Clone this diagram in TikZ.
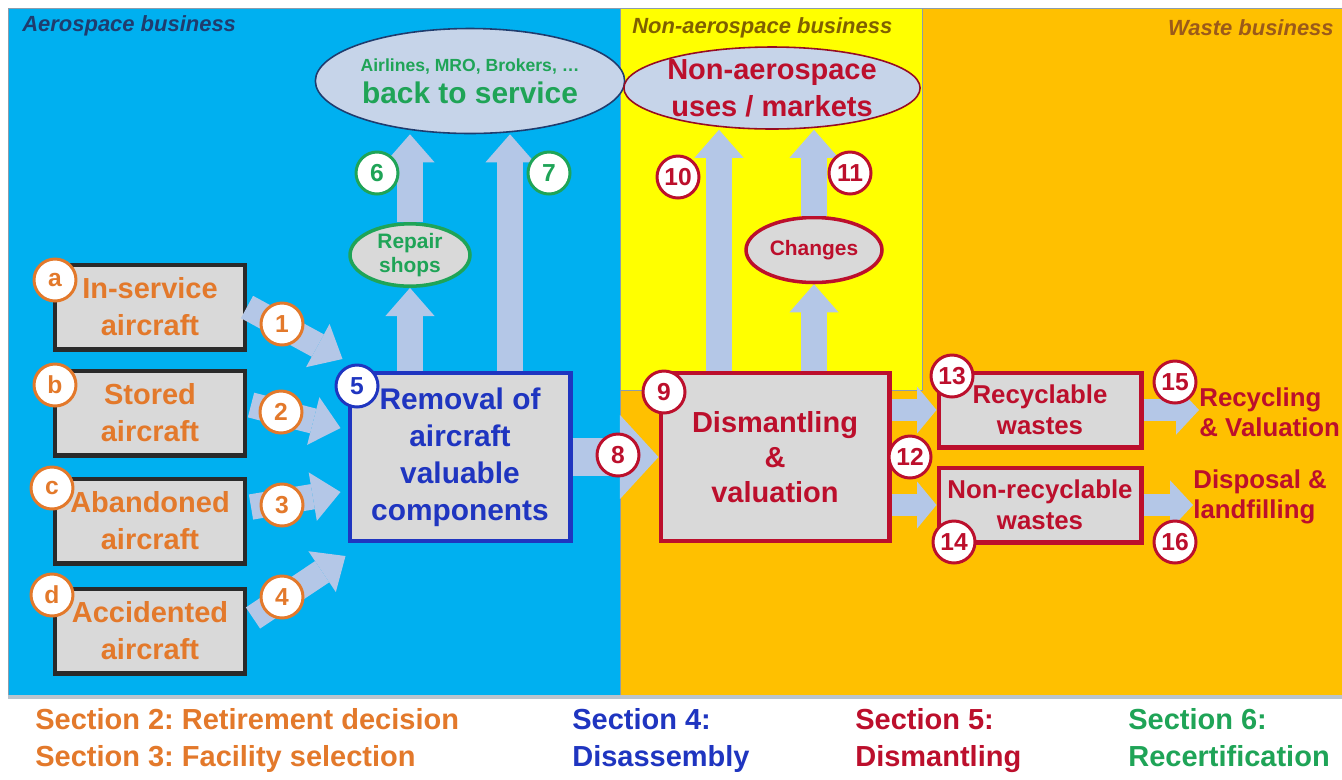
\documentclass[tikz,border=0pt]{standalone}
\usepackage{fontspec}
\setmainfont{Liberation Sans}
\usetikzlibrary{arrows.meta,shapes.geometric}
\frenchspacing
\definecolor{skyblue}{HTML}{00B0F0}
\definecolor{lemon}{HTML}{FFFF00}
\definecolor{amber}{HTML}{FFC000}
\definecolor{boxgray}{HTML}{D9D9D9}
\definecolor{ellfill}{HTML}{C6D4E9}
\definecolor{flowblue}{HTML}{B4C7E7}
\definecolor{framegray}{HTML}{8C9CAC}
\definecolor{boxedge}{HTML}{2A2A2A}
\definecolor{secorange}{HTML}{E3792B}
\definecolor{secblue}{HTML}{1F35C0}
\definecolor{secred}{HTML}{BC0F2C}
\definecolor{secgreen}{HTML}{1FA457}
\definecolor{navytext}{HTML}{1F3C6E}
\definecolor{olivetext}{HTML}{7F6000}
\definecolor{wastetext}{HTML}{9B5A1A}
\tikzset{
  arealabel/.style={font=\bfseries\itshape\fontsize{12.5}{15}\selectfont, inner sep=0pt},
  srcbox/.style={draw=boxedge, line width=2.3pt, fill=boxgray, minimum width=3.8cm,
    minimum height=1.7cm, text=secorange, align=center, inner sep=0pt,
    font=\bfseries\fontsize{16.5}{21}\selectfont},
  stepbox/.style={draw=#1, line width=2.3pt, fill=boxgray, text=#1, align=center,
    inner sep=0pt, font=\bfseries\fontsize{17}{21}\selectfont},
  wastebox/.style={stepbox=secred, minimum width=4.06cm, minimum height=1.5cm,
    font=\bfseries\fontsize{14.7}{17.6}\selectfont},
  bigell/.style={ellipse, draw=#1, line width=0.9pt, fill=ellfill, align=center, inner sep=0pt},
  smallell/.style={ellipse, draw=#1, line width=2pt, fill=boxgray, text=#1, align=center,
    inner sep=0pt, font=\bfseries\fontsize{11.9}{14}\selectfont},
  tag/.style={circle, draw=#1, text=#1, fill=white, line width=1.7pt, minimum size=0.84cm,
    inner sep=0pt, font=\bfseries\fontsize{14}{14}\selectfont},
  flow/.style={draw=flowblue, line width=14.5pt,
    -{Triangle[length=16pt,width=28pt,line width=0pt]}},
  outtext/.style={anchor=west, align=left, text=secred, inner sep=0pt,
    font=\bfseries\fontsize{14.7}{17}\selectfont},
  legend/.style={anchor=west, align=left, inner sep=0pt,
    font=\bfseries\fontsize{16.5}{21}\selectfont}
}
\begin{document}
\begin{tikzpicture}[x=0.02cm,y=-0.02cm]
\useasboundingbox (0,0) rectangle (1342,779);
\fill[white] (0,0) rectangle (1342,779);
\fill[skyblue] (8,8) rectangle (620,695);
\fill[amber] (620,390) -- (922,390) -- (922,8) -- (1342,8) -- (1342,695) -- (620,695) -- cycle;
\fill[lemon] (620,8) rectangle (922,390);
\draw[framegray] (8,695) -- (8,8) -- (1342,8);
\draw[framegray] (620,8) -- (620,695);
\draw[framegray] (922,8) -- (922,390) -- (620,390);
\draw[framegray!60, line width=2.5pt] (8,697) -- (1342,697);

\node[arealabel, text=navytext, anchor=west] (aero) at (22,26) {Aerospace business};
\node[arealabel, text=olivetext, anchor=west] (nonaero) at (632,28) {Non-aerospace business};
\node[arealabel, text=wastetext, anchor=east] (waste) at (1334,28) {Waste business};

\node[srcbox] (ins) at (150,307) {In-service\\aircraft};
\node[srcbox] (sto) at (150,413) {Stored\\aircraft};
\node[srcbox] (aba) at (150,521) {Abandoned\\aircraft};
\node[srcbox] (acc) at (150,631) {Accidented\\aircraft};
\node[stepbox=secblue, minimum width=4.42cm, minimum height=3.36cm] (rem) at (460,457)
  {Removal of\\aircraft\\valuable\\components};
\node[stepbox=secred, minimum width=4.58cm, minimum height=3.36cm,
  font=\bfseries\fontsize{16.5}{20}\selectfont] (dis) at (775,457) {Dismantling\\\&\\valuation};
\node[wastebox] (rec) at (1040,410) {Recyclable\\wastes};
\node[wastebox] (nrec) at (1040,505) {Non-recyclable\\wastes};

\node[bigell=navytext, minimum width=5.9cm, minimum height=2.1cm, text=secgreen,
  font=\bfseries\fontsize{17}{18}\selectfont] (back) at (470,81)
  {{\fontsize{10}{12}\selectfont Airlines, MRO, Brokers, …}\\back to service};
\node[smallell=secgreen, minimum width=2.4cm, minimum height=1.12cm] (shops) at (410,255)
  {Repair\\shops};
\node[bigell=secred!80!black, minimum width=5.9cm, minimum height=1.64cm, text=secred,
  font=\bfseries\fontsize{16.5}{21}\selectfont] (markets) at (772,88)
  {Non-aerospace\\uses / markets};
\node[smallell=secred, minimum width=2.72cm, minimum height=1.3cm] (chg) at (814,250) {Changes};

\node[outtext] (recytxt) at (1199,412) {Recycling\\\& Valuation};
\node[outtext] (disptxt) at (1193,497) {Disposal \&\\landfilling};

\draw[flow] (ins.east) -- ([shift={(-5,-12)}]rem.north west);
\draw[flow] ([shift={(4,-8)}]sto.east) -- ([shift={(-7,-29)}]rem.west);
\draw[flow] ([shift={(4,-14)}]aba.east) -- ([shift={(-7,35)}]rem.west);
\draw[flow] ([shift={(6,-13)}]acc.east) -- ([shift={(-2,13)}]rem.south west);
\draw[flow] (shops.south |- rem.north) -- (shops.south);
\draw[flow] (shops.north) -- (shops.north |- back.south);
\coordinate (up7) at ([shift={(50,0)}]rem.north);
\draw[flow] (up7) -- (up7 |- back.south);
\draw[flow, line width=22pt, -{Triangle[length=22pt,width=48pt,line width=0pt]}] (rem.east) -- (dis.west);
\coordinate (up10) at ([shift={(-56,0)}]dis.north);
\draw[flow] (up10) -- (up10 |- markets.south);
\draw[flow] (chg.south |- dis.north) -- (chg.south);
\draw[flow] (chg.north) -- (chg.north |- markets.south);
\draw[flow, line width=12.5pt, -{Triangle[length=11pt,width=26.6pt,line width=0pt]}] (dis.east |- rec.west) -- (rec.west);
\draw[flow, line width=12.5pt, -{Triangle[length=11pt,width=26.6pt,line width=0pt]}] (dis.east |- nrec.west) -- (nrec.west);
\draw[flow, line width=12.5pt, -{Triangle[length=13pt,width=28pt,line width=0pt]}] (rec.east) -- (rec.east -| recytxt.west);
\draw[flow, line width=12.5pt, -{Triangle[length=13pt,width=28pt,line width=0pt]}] (nrec.east) -- (nrec.east -| disptxt.west);

\node[tag=secorange] (ta) at (55,280) {a};
\node[tag=secorange] (tb) at (55,385) {b};
\node[tag=secorange] (tc) at (52,488) {c};
\node[tag=secorange] (td) at (52,595) {d};
\node[tag=secorange] (t1) at (282,324) {1};
\node[tag=secorange] (t2) at (281,412) {2};
\node[tag=secorange] (t3) at (282,505) {3};
\node[tag=secorange] (t4) at (282,597) {4};
\node[tag=secblue] (t5) at (357,386) {5};
\node[tag=secgreen] (t6) at (377,173) {6};
\node[tag=secgreen] (t7) at (549,173) {7};
\node[tag=secred] (t8) at (618,455) {8};
\node[tag=secred] (t9) at (664,392) {9};
\node[tag=secred] (t10) at (678,177) {10};
\node[tag=secred] (t11) at (850,173) {11};
\node[tag=secred] (t12) at (910,457) {12};
\node[tag=secred] (t13) at (952,376) {13};
\node[tag=secred] (t14) at (954,542) {14};
\node[tag=secred] (t15) at (1175,382) {15};
\node[tag=secred] (t16) at (1175,542) {16};

\node[legend, text=secorange, anchor=north west] (leg23) at (35,708) {Section 2: Retirement decision\\Section 3: Facility selection};
\node[legend, text=secblue, anchor=north west] (leg4) at (572,708) {Section 4:\\Disassembly};
\node[legend, text=secred, anchor=north west] (leg5) at (855,708) {Section 5:\\Dismantling};
\node[legend, text=secgreen, anchor=north west] (leg6) at (1128,708) {Section 6:\\Recertification};
\end{tikzpicture}
\end{document}
